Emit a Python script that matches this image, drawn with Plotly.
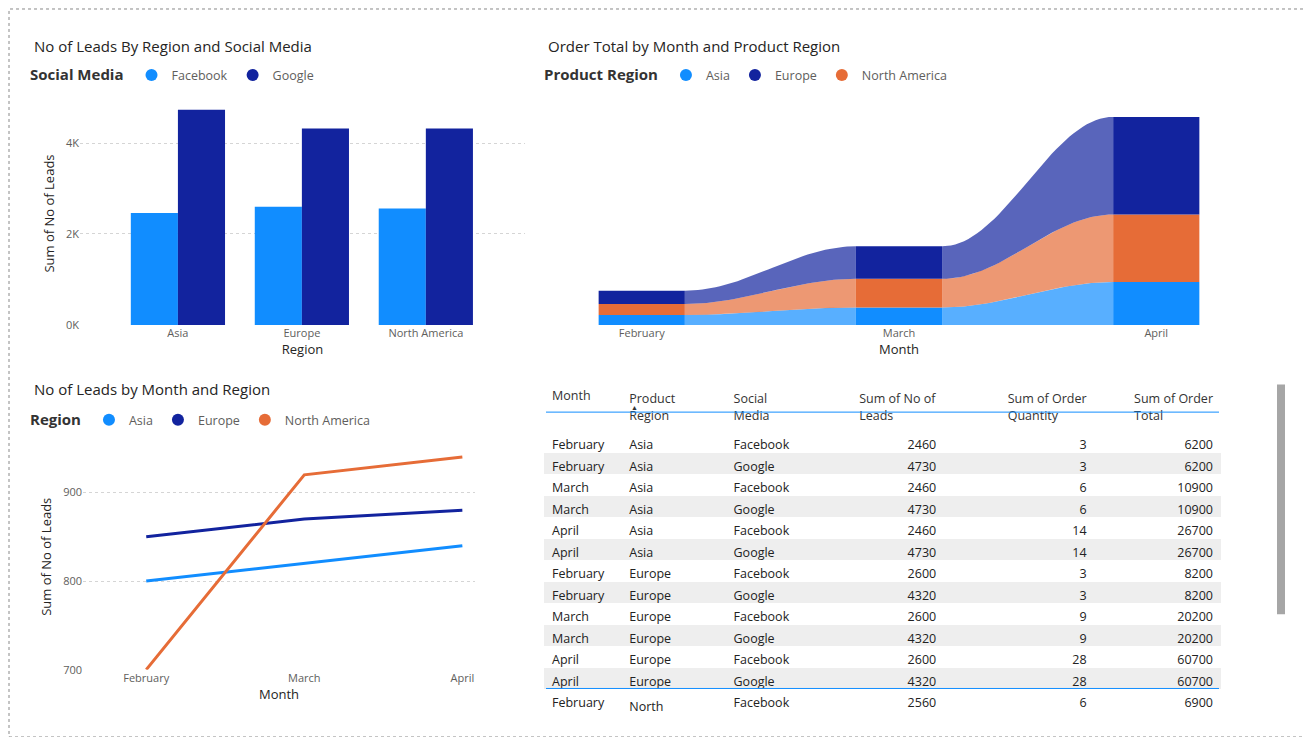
import numpy as np
import plotly.graph_objects as go

W, H = 1311, 737
BLUE, NAVY, ORANGE = '#118DFF', '#12239E', '#E66C37'
FONT = 'Open Sans, Noto Sans, sans-serif'

# bar chart
regions = ['Asia', 'Europe', 'North America']
leads_facebook = [2460, 2600, 2560]
leads_google = [4730, 4320, 4320]

# ribbon chart (order total)
months = ['February', 'March', 'April']
order_asia = [6200, 10900, 26700]
order_na = [6900, 17800, 42000]
order_europe = [8200, 20200, 60700]

# line chart
line_asia = [800, 820, 840]
line_europe = [850, 870, 880]
line_na = [700, 920, 940]

# table
t_month = ['February', 'February', 'March', 'March', 'April', 'April', 'February', 'February',
           'March', 'March', 'April', 'April', 'February']
t_region = ['Asia'] * 6 + ['Europe'] * 6 + ['North America']
t_social = ['Facebook', 'Google'] * 6 + ['Facebook']
t_leads = [2460, 4730, 2460, 4730, 2460, 4730, 2600, 4320, 2600, 4320, 2600, 4320, 2560]
t_qty = [3, 3, 6, 6, 14, 14, 3, 3, 9, 9, 28, 28, 6]
t_total = [6200, 6200, 10900, 10900, 26700, 26700, 8200, 8200, 20200, 20200, 60700, 60700, 6900]
totals = ['20970', '99', '198600']


def px(x0, x1):
    return [x0 / W, x1 / W]


def py(top, bottom):
    return [1 - bottom / H, 1 - top / H]


fig = go.Figure()


def legend_dot(name, color, legend, rank):
    fig.add_trace(go.Scatter(x=[None], y=[None], mode='markers', name=name,
                             marker=dict(color=color, size=11, symbol='circle'),
                             legend=legend, legendrank=rank))


# --- bar chart
fig.add_trace(go.Bar(x=regions, y=leads_facebook, name='Facebook', marker_color=BLUE,
                     marker_line_width=0, showlegend=False))
fig.add_trace(go.Bar(x=regions, y=leads_google, name='Google', marker_color=NAVY,
                     marker_line_width=0, showlegend=False))
legend_dot('Facebook', BLUE, 'legend', 1)
legend_dot('Google', NAVY, 'legend', 2)

# --- ribbon chart
series = [('Asia', order_asia, BLUE, 'rgba(17,141,255,0.7)'),
          ('North America', order_na, ORANGE, 'rgba(230,108,55,0.7)'),
          ('Europe', order_europe, NAVY, 'rgba(18,35,158,0.7)')]
bw = 0.335
base = np.zeros(3)
bounds = []
for name, vals, col, rib in series:
    lo = base.copy()
    hi = base + np.array(vals)
    bounds.append((lo, hi))
    base = hi
# ribbons: smooth bands between the bar edges
t = np.linspace(0, 1, 40)
s = (1 - np.cos(np.pi * t)) / 2
for (name, vals, col, rib), (lo, hi) in zip(series, bounds):
    for i in range(2):
        xs = i + bw / 2 + t * (1 - bw)
        top = hi[i] + (hi[i + 1] - hi[i]) * s
        bot = lo[i] + (lo[i + 1] - lo[i]) * s
        fig.add_trace(go.Scatter(x=np.concatenate([xs, xs[::-1]]),
                                 y=np.concatenate([top, bot[::-1]]),
                                 fill='toself', fillcolor=rib, line_width=0, mode='lines',
                                 hoverinfo='skip', showlegend=False, xaxis='x2', yaxis='y2'))
for (name, vals, col, rib), (lo, hi) in zip(series, bounds):
    fig.add_trace(go.Bar(x=[0, 1, 2], y=vals, base=lo, width=bw, offset=-bw / 2,
                         marker_color=col, marker_line_width=0, name=name,
                         xaxis='x2', yaxis='y2', showlegend=False))
legend_dot('Asia', BLUE, 'legend2', 1)
legend_dot('Europe', NAVY, 'legend2', 2)
legend_dot('North America', ORANGE, 'legend2', 3)

# --- line chart
for name, vals, col in [('Asia', line_asia, BLUE), ('Europe', line_europe, NAVY),
                        ('North America', line_na, ORANGE)]:
    fig.add_trace(go.Scatter(x=months, y=vals, mode='lines', name=name,
                             line=dict(color=col, width=3), xaxis='x3', yaxis='y3',
                             showlegend=False))
legend_dot('Asia', BLUE, 'legend3', 1)
legend_dot('Europe', NAVY, 'legend3', 2)
legend_dot('North America', ORANGE, 'legend3', 3)

# --- table
fills = ['white' if i % 2 == 0 else '#EEEEEE' for i in range(13)] + ['white']
bold = lambda v: '<b>' + v + '</b>'
fig.add_trace(go.Table(
    domain=dict(x=px(536, 1213), y=py(378, 712)),
    columnwidth=[77, 104, 90, 128, 150, 126],
    header=dict(values=['Month', 'Product Region', 'Social Media', 'Sum of No of Leads',
                        'Sum of Order Quantity', 'Sum of Order Total'],
                align=['left', 'left', 'left', 'right', 'right', 'right'],
                fill_color='white', line_color='white', height=29,
                font=dict(family=FONT, size=12.5, color='#333333')),
    cells=dict(values=[t_month + [bold('Total')], t_region + [''], t_social + [''],
                       [str(v) for v in t_leads] + [bold(totals[0])],
                       [str(v) for v in t_qty] + [bold(totals[1])],
                       [str(v) for v in t_total] + [bold(totals[2])]],
               align=['left', 'left', 'left', 'right', 'right', 'right'],
               fill_color=[fills] * 6, line_color=[fills] * 6, height=21.5,
               font=dict(family=FONT, size=12.5, color='#222222'))))

axfont = dict(family=FONT, size=11, color='#605E5C')
titlefont = dict(family=FONT, size=13, color='#252423')
legcommon = dict(orientation='h', xanchor='left', yanchor='middle', bgcolor='rgba(0,0,0,0)',
                 font=dict(family=FONT, size=12.5, color='#605E5C'), itemwidth=30,
                 tracegroupgap=0, itemsizing='constant')

fig.update_layout(
    width=W, height=H, margin=dict(l=0, r=0, t=0, b=0),
    paper_bgcolor='white', plot_bgcolor='white', font=dict(family=FONT),
    barmode='group', bargap=0.24, bargroupgap=0,
    xaxis=dict(domain=px(72, 517), range=[-0.79, 2.8], tickfont=axfont, showline=False,
               title=dict(text='Region', font=titlefont, standoff=4)),
    yaxis=dict(domain=py(95, 320), range=[0, 4900], tickvals=[0, 2000, 4000],
               ticktext=['0K', '2K', '4K'], tickfont=axfont, gridcolor='#D5D5D5',
               griddash='dot', zeroline=False,
               title=dict(text='Sum of No of Leads', font=titlefont, standoff=8)),
    xaxis2=dict(domain=px(590, 1192), range=[-0.17, 2.17], tickvals=[0, 1, 2],
                ticktext=months, tickfont=axfont, showgrid=False, zeroline=False,
                title=dict(text='Month', font=titlefont, standoff=4), anchor='y2'),
    yaxis2=dict(domain=py(95, 320), range=[0, 138600], visible=False, anchor='x2'),
    xaxis3=dict(domain=px(75, 467), anchor='y3', tickfont=axfont, showgrid=False,
                range=[-0.4, 2.08], title=dict(text='Month', font=titlefont, standoff=4)),
    yaxis3=dict(domain=py(440, 668), anchor='x3', range=[700, 955], tickvals=[700, 800, 900],
                tickfont=axfont, gridcolor='#D5D5D5', griddash='dot', zeroline=False,
                title=dict(text='Sum of No of Leads', font=titlefont, standoff=8)),
    legend=dict(x=20 / W, y=1 - 68 / H,
                title=dict(text='<b>Social Media</b>', font=dict(color='#333333')), **legcommon),
    legend2=dict(x=534 / W, y=1 - 68 / H,
                 title=dict(text='<b>Product Region</b>', font=dict(color='#333333')), **legcommon),
    legend3=dict(x=20 / W, y=1 - 416 / H,
                 title=dict(text='<b>Region</b>', font=dict(color='#333333')), **legcommon),
    showlegend=True,
)
fig.update_xaxes(type='category', selector=dict(anchor='y3'))

for text, x, y in [('No of Leads By Region and Social Media', 24, 38),
                   ('Order Total by Month and Product Region', 538, 38),
                   ('No of Leads by Month and Region', 24, 385)]:
    fig.add_annotation(text=text, x=x / W, y=1 - y / H, xref='paper', yref='paper',
                       xanchor='left', yanchor='middle', showarrow=False,
                       font=dict(family=FONT, size=15, color='#252423'))

# page border, table rules, scrollbar
fig.add_shape(type='rect', xref='paper', yref='paper', x0=1 / W, x1=1 - 1 / W, y0=1 / H,
              y1=1 - 1 / H, line=dict(color='#888888', width=1, dash='dot'))
fig.add_shape(type='line', xref='paper', yref='paper', x0=538 / W, x1=1211 / W,
              y0=1 - 408 / H, y1=1 - 408 / H, line=dict(color='#118DFF', width=1))
fig.add_shape(type='line', xref='paper', yref='paper', x0=538 / W, x1=1211 / W,
              y0=1 - 687 / H, y1=1 - 687 / H, line=dict(color='#118DFF', width=1))
fig.add_shape(type='rect', xref='paper', yref='paper', x0=1269 / W, x1=1277 / W,
              y0=1 - 612 / H, y1=1 - 380 / H, fillcolor='#A6A6A6', line_width=0)
fig.add_annotation(text='▲', x=626 / W, y=1 - 403 / H, xref='paper', yref='paper',
                   showarrow=False, font=dict(size=7, color='#333333'))

fig.write_html('out.html')
